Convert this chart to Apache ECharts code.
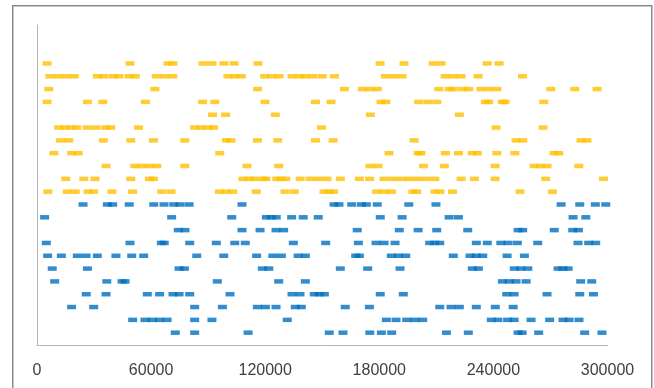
<!DOCTYPE html>
<html>
<head>
<meta charset="utf-8">
<script src="https://cdn.jsdelivr.net/npm/echarts@6/dist/echarts.min.js"></script>
<style>
html,body{margin:0;padding:0;background:#fff;}
#chart{width:654px;height:388px;}
</style>
</head>
<body>
<div id="chart"></div>
<script>
// X tick labels
const xTicks = [0, 60000, 120000, 180000, 240000, 300000];

// Row levels (y values) for the two series
const orangeY = [22, 21, 20, 19, 18, 17, 16, 15, 14, 13, 12];
const blueY = [11, 10, 9, 8, 7, 6, 5, 4, 3, 2, 1];

// X values of the points in each row (top row first)
const orangeRows = [
  [5300, 48900, 68900, 71500, 87300, 92000, 98300, 103600, 116200, 180400, 193000, 208300, 212500, 236700, 243000],
  [6700, 11000, 15300, 19600, 31700, 35100, 40000, 43100, 48400, 51700, 62700, 67100, 71400, 100400, 104000, 107400, 119700, 123500, 127300, 134100, 138200, 141100, 145100, 150000, 156400, 183200, 187600, 192000, 214600, 218800, 223000, 231900, 255300],
  [6200, 62000, 116000, 161700, 171100, 175000, 179000, 211300, 216700, 218800, 223700, 227000, 233500, 237700, 241900, 270200, 282800, 294500],
  [5300, 26500, 34600, 57000, 87100, 93500, 119900, 146400, 154600, 180900, 183500, 200700, 205500, 210200, 235800, 237500, 244700, 246100, 266500],
  [92300, 99200, 125300, 175300, 222100],
  [11400, 14700, 17900, 20900, 26300, 31000, 36100, 38800, 53400, 82900, 86200, 89800, 92900, 149600, 241400, 266100],
  [12300, 16700, 34900, 49300, 61200, 77700, 99600, 102000, 115900, 126600, 146400, 155700, 198300, 251900, 255400, 286100, 289200],
  [8900, 18200, 21600, 96100, 185100, 200400, 201900, 214700, 221600, 228900, 231600, 241800, 251300, 271900, 274400],
  [36300, 51400, 55200, 59100, 63000, 77700, 110400, 127100, 175100, 179300, 203200, 214200, 240900, 261400, 264800, 268200, 284900],
  [15100, 24600, 30500, 49300, 59100, 61200, 108300, 111500, 114300, 118900, 120400, 126100, 128300, 130800, 138400, 143600, 148000, 152500, 159500, 169500, 174900, 182500, 187100, 191600, 195800, 200200, 204600, 209200, 223000, 230000, 240900, 267500, 297900],
  [5700, 15900, 20100, 26800, 29800, 39400, 50300, 65600, 70500, 95900, 99400, 102900, 115300, 130400, 135300, 150900, 153600, 156000, 178600, 182600, 186500, 197700, 199700, 209300, 211900, 218500, 254000, 271000]
];

const blueRows = [
  [24200, 37000, 39800, 48500, 61400, 66800, 71900, 75200, 80000, 107800, 156200, 158800, 165500, 170600, 173200, 178900, 195500, 209800, 275600, 285400, 293600, 299100],
  [4000, 70800, 102400, 120600, 123200, 125800, 133900, 140000, 147900, 180500, 192000, 216700, 221600, 281900, 288600],
  [74300, 77800, 107800, 117300, 125700, 129700, 168400, 190500, 200400, 210200, 226500, 253000, 255400, 272000, 281700, 284700],
  [4900, 48900, 65400, 66900, 80300, 94300, 104000, 109500, 134800, 151800, 169000, 178300, 182500, 188300, 206500, 209200, 211800, 231000, 236800, 243900, 247700, 252600, 263300, 284500, 290100, 293800],
  [5600, 12800, 21200, 25800, 31700, 41500, 49800, 56100, 84000, 98200, 115500, 124000, 128500, 137300, 141100, 167600, 169500, 186300, 190100, 193900, 218900, 227700, 231000, 234400, 247200, 256300],
  [8000, 26500, 74700, 77500, 118500, 121900, 159500, 173900, 190900, 228900, 232100, 251000, 254500, 258100, 274000, 276600, 279300],
  [9300, 36700, 44700, 46300, 94800, 127100, 141100, 244700, 248300, 251900, 257200, 285900, 291700],
  [25900, 36300, 58000, 64500, 71500, 74700, 80300, 101500, 134100, 138300, 145800, 148500, 151100, 180500, 192600, 247000, 250900, 268200, 285400, 292600],
  [18200, 29800, 82900, 97500, 115900, 120100, 125700, 135800, 139000, 162100, 174800, 211800, 217700, 222100, 231000, 241000, 250400],
  [50300, 56800, 60600, 64500, 68400, 82900, 92000, 131600, 183700, 188800, 194400, 198600, 202800, 238900, 242400, 247500, 250900, 259800, 269600, 276600, 279800, 285000],
  [72700, 82900, 111000, 153700, 160900, 175000, 181100, 186500, 215300, 226800, 253000, 255100, 263800, 288000, 297100]
];

function toPoints(rows, ys) {
  const pts = [];
  rows.forEach((row, i) => row.forEach(x => pts.push([x, ys[i]])));
  return pts;
}

const chart = echarts.init(document.getElementById('chart'), null, {renderer: 'canvas'});
chart.setOption({
  animation: false,
  backgroundColor: '#ffffff',
  graphic: [{
    type: 'rect',
    silent: true,
    shape: {x: 12.75, y: 5.75, width: 639, height: 420},
    style: {fill: 'none', stroke: '#8a8a8a', lineWidth: 1.5}
  }],
  grid: {left: 37, right: 46.5, top: 25, bottom: 42.5, containLabel: false},
  xAxis: {
    type: 'value',
    min: xTicks[0],
    max: xTicks[xTicks.length - 1],
    interval: xTicks[1] - xTicks[0],
    axisLine: {show: true, lineStyle: {color: '#b5b5b5', width: 1}},
    axisTick: {show: false},
    splitLine: {show: false},
    axisLabel: {
      margin: 17,
      fontSize: 16,
      fontFamily: 'Liberation Sans, Arial, sans-serif',
      color: '#404040',
      formatter: v => String(v)
    }
  },
  yAxis: {
    type: 'value',
    min: 0,
    max: 25,
    axisLine: {show: true, lineStyle: {color: '#b5b5b5', width: 1}},
    axisTick: {show: false},
    axisLabel: {show: false},
    splitLine: {show: false}
  },
  series: [
    {
      type: 'scatter',
      data: toPoints(orangeRows, orangeY),
      symbol: 'rect',
      symbolSize: [9, 4.5],
      itemStyle: {color: '#FFC000'}
    },
    {
      type: 'scatter',
      data: toPoints(blueRows, blueY),
      symbol: 'rect',
      symbolSize: [9, 4.5],
      itemStyle: {color: '#0070C0'}
    }
  ]
});
</script>
</body>
</html>
